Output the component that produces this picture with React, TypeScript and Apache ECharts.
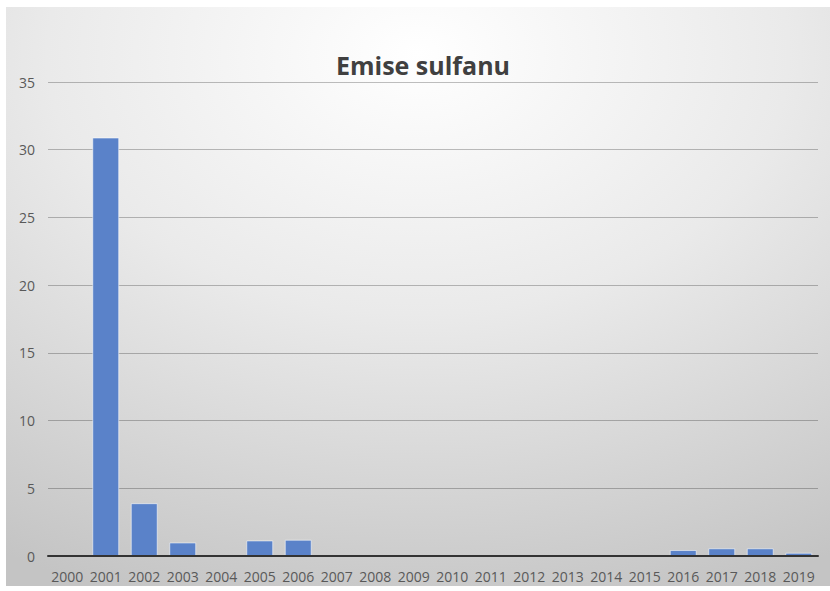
import React, { useEffect, useRef } from "react";
import * as echarts from "echarts";

const years = ["2000","2001","2002","2003","2004","2005","2006","2007","2008","2009","2010","2011","2012","2013","2014","2015","2016","2017","2018","2019"];
const emissions = [0, 30.9, 3.9, 1.0, 0, 1.15, 1.2, 0.02, 0.02, 0.02, 0.02, 0.02, 0.02, 0.02, 0.02, 0.02, 0.44, 0.57, 0.57, 0.24];
const titleText = "Emise sulfanu";

export default function App() {
  const ref = useRef<HTMLDivElement>(null);
  useEffect(() => {
    document.body.style.margin = "0";
    const chart = echarts.init(ref.current!, undefined, { renderer: "svg" });
    chart.setOption({
      animation: false,
      backgroundColor: "#ffffff",
      title: {
        text: titleText,
        left: 423,
        top: 52,
        padding: 0,
        textAlign: "center",
        textStyle: { fontFamily: "Open Sans", fontWeight: "bold", fontSize: 25, color: "#404040" },
      },
      graphic: [
        {
          type: "rect",
          z: -10,
          silent: true,
          shape: { x: 6, y: 7, width: 824, height: 579 },
          style: {
            fill: {
              type: "radial",
              x: 0.5,
              y: 0.08,
              r: 1.0,
              colorStops: [
                { offset: 0, color: "#ffffff" },
                { offset: 0.45, color: "#eaeaea" },
                { offset: 1, color: "#c4c4c4" },
              ],
            },
          },
        },
      ],
      grid: { left: 48, right: 12, top: 82, bottom: 35, containLabel: false },
      xAxis: {
        type: "category",
        data: years,
        z: 5,
        axisTick: { show: false },
        axisLine: { show: true, lineStyle: { color: "#333333", width: 2 } },
        axisLabel: { fontFamily: "Open Sans", fontSize: 14, color: "#595959", margin: 13, interval: 0 },
      },
      yAxis: {
        type: "value",
        min: 0,
        max: 35,
        interval: 5,
        axisLine: { show: false },
        axisTick: { show: false },
        axisLabel: { fontFamily: "Open Sans", fontSize: 14, color: "#595959", margin: 13 },
        splitLine: { lineStyle: { color: "rgba(0,0,0,0.25)", width: 1 } },
      },
      series: [
        {
          type: "bar",
          data: emissions,
          barWidth: "70%",
          itemStyle: { color: "#5a82c9", borderColor: "rgba(255,255,255,0.55)", borderWidth: 1 },
        },
      ],
    });
    return () => chart.dispose();
  }, []);
  return <div ref={ref} style={{ width: 830, height: 591 }} />;
}
